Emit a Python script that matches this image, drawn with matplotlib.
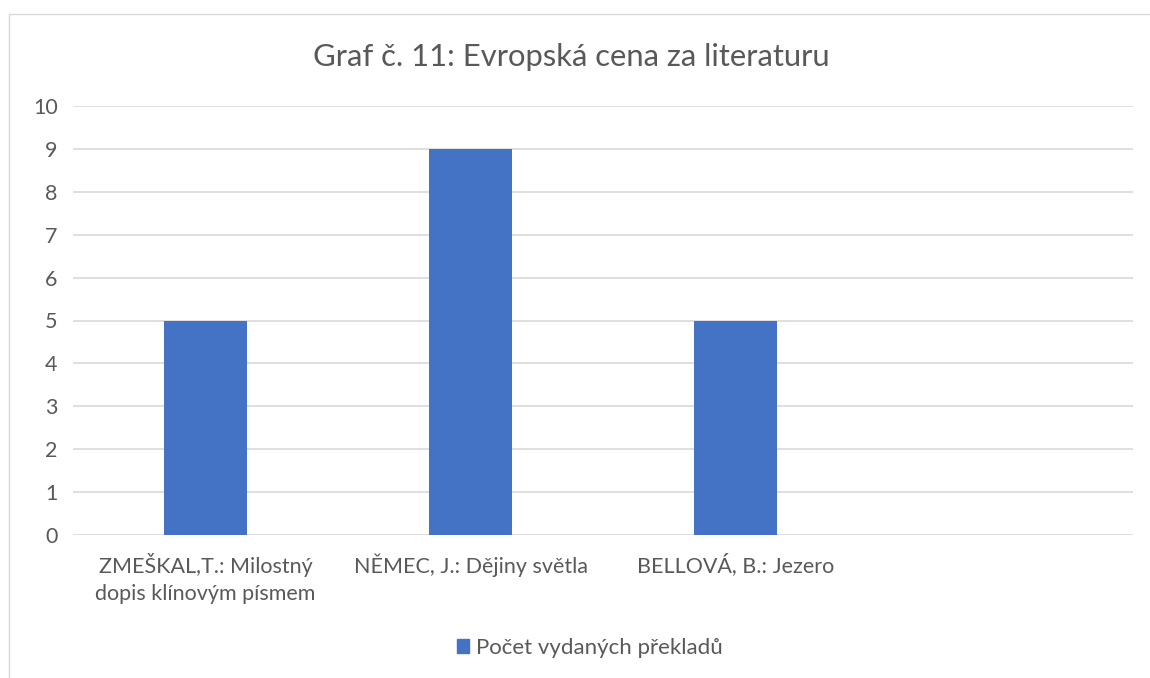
import matplotlib
matplotlib.use("Agg")
import matplotlib.pyplot as plt
from matplotlib.patches import Rectangle, Patch

categories = ["ZMEŠKAL,T.: Milostný\ndopis klínovým písmem", "NĚMEC, J.: Dějiny světla", "BELLOVÁ, B.: Jezero", ""]
values = [5, 9, 5, 0]
series_name = "Počet vydaných překladů"
title = "Graf č. 11: Evropská cena za literaturu"
yticks = list(range(0, 11))

plt.rcParams['font.family'] = ['Lato', 'DejaVu Sans']
text_color = "#595959"
bar_color = "#4472C4"
grid_color = "#D9D9D9"

fig = plt.figure(figsize=(11.5, 6.78), dpi=100)
W, H = 1150, 678
ax = fig.add_axes([73 / W, 1 - 535 / H, (1133 - 73) / W, (535 - 106) / H])

x = list(range(len(categories)))
ax.bar(x[:3], values[:3], width=0.31, color=bar_color, zorder=3)
ax.set_xlim(-0.5, len(categories) - 0.5)
ax.set_ylim(0, 10)
ax.set_yticks(yticks)
ax.set_yticklabels([str(t) for t in yticks], fontsize=15.5, color=text_color)
ax.set_xticks(x)
ax.set_xticklabels(categories, fontsize=15.5, color=text_color, linespacing=1.45, va='top')
ax.tick_params(axis='both', length=0)
ax.tick_params(axis='y', pad=11)
ax.tick_params(axis='x', pad=13)
ax.grid(axis='y', color=grid_color, linewidth=1.2, zorder=0)
for s in ax.spines.values():
    s.set_visible(False)

fig.text(571 / W, 1 - 57 / H, title, ha='center', va='center', fontsize=22.3, color=text_color)

leg = fig.legend(handles=[Patch(color=bar_color, label=series_name)], loc='center',
                 bbox_to_anchor=(590 / W, 1 - 648 / H), frameon=False, fontsize=16,
                 handlelength=0.55, handleheight=0.55, handletextpad=0.3)
for t in leg.get_texts():
    t.set_color(text_color)

fig.patches.append(Rectangle((9 / W, -0.1), 1.2, 1 - 14 / H + 0.1, transform=fig.transFigure,
                             fill=False, edgecolor="#D9D9D9", linewidth=1.0))

fig.savefig("out.png", dpi=100, facecolor="white")
